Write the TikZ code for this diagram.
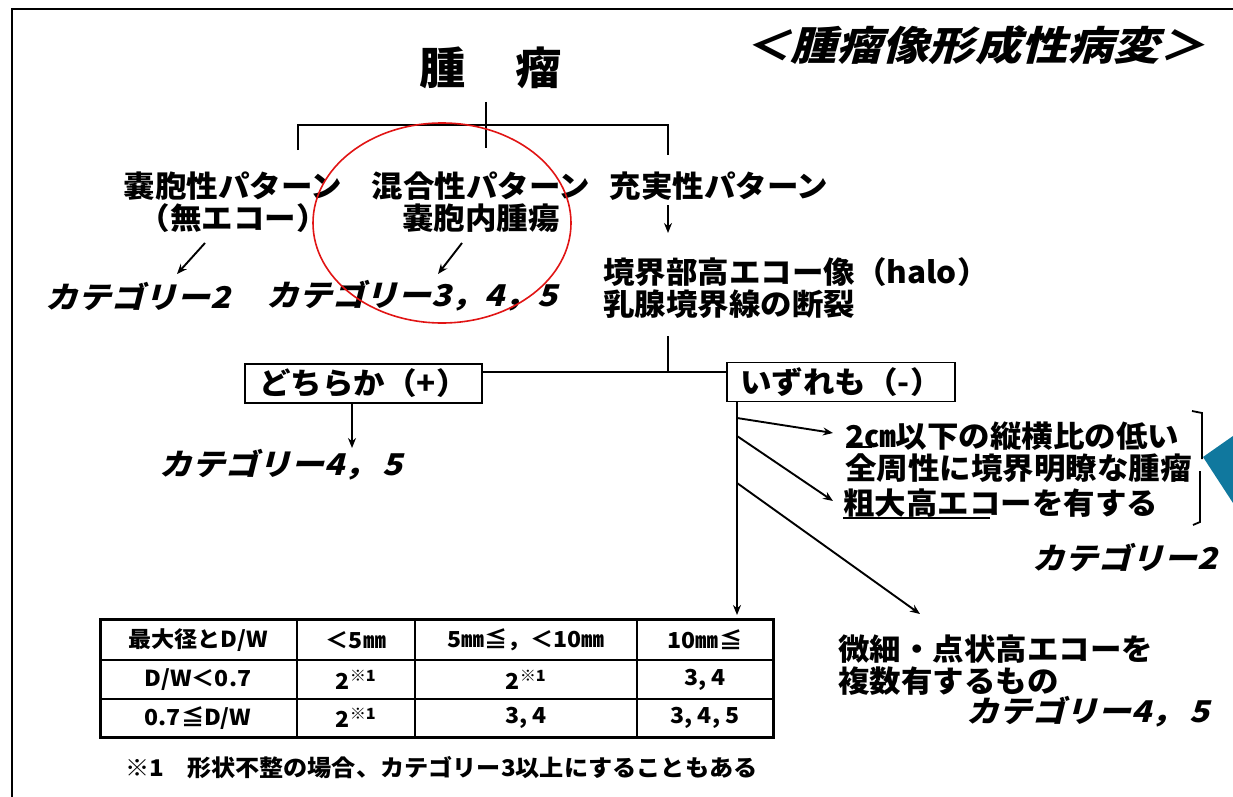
\documentclass[tikz,border=0pt]{standalone}
\usepackage{fontspec}
\usepackage{graphicx}
\usetikzlibrary{arrows.meta}
\newfontfamily\jp[FakeStretch=1.05]{Noto Sans CJK JP}
\newfontfamily\jpit[FakeSlant=0.25,FakeStretch=1.1]{Noto Sans CJK JP}
\definecolor{tealtri}{RGB}{16,120,158}
\definecolor{circred}{RGB}{225,20,20}
\begin{document}
\begin{tikzpicture}[x=1pt,y=-1pt,
  tree/.style={line width=2.6pt},
  arr/.style={line width=1.9pt,-{Stealth[length=10pt,width=8pt]}},
  txt/.style={font=\jp\bfseries\fontsize{30}{32}\selectfont,inner sep=0pt,align=center},
  cat/.style={font=\jpit\bfseries\fontsize{30}{32}\selectfont,inner sep=0pt},
  stepbox/.style={draw,line width=1.5pt,minimum height=39pt,font=\jp\bfseries\fontsize{30}{32}\selectfont,inner sep=0pt},
  tcell/.style={font=\jp\bfseries\fontsize{22}{24}\selectfont,inner sep=0pt},
  note/.style={font=\jp\bfseries\fontsize{23}{26}\selectfont,inner sep=0pt}]
\useasboundingbox (0,0) rectangle (1233,797);
\fill[white] (0,0) rectangle (1233,797);
% frame
\draw[line width=2.5pt] (12,797) -- (12,9) -- (1233,9);

% titles
\node[font=\jp\bfseries\fontsize{44}{48}\selectfont,inner sep=0pt] (title) at (491,68) {腫\hspace{50pt}瘤};
\node[font=\jpit\bfseries\fontsize{40}{46}\selectfont,inner sep=0pt] (sub) at (975,45) {\scalebox{1.05}[1]{＜腫瘤像形成性病変＞}};

% tree
\coordinate (t0) at (486,102);
\coordinate (tm) at (486,148);
\coordinate (b1) at (298,125);
\coordinate (b1d) at (298,150);
\coordinate (b3) at (668,125);
\coordinate (b3d) at (668,155);
\draw[tree] (t0) -- (tm);
\draw[tree] (b1d) -- (b1) -- (b3) -- (b3d);

\node[txt] (cyst) at (233,202) {嚢胞性パターン\\（無エコー）};
\node[txt] (mix) at (481,202) {混合性パターン\\嚢胞内腫瘍};
\node[txt] (solid) at (719,186) {充実性パターン};

\node[cat] (c2a) at (138,296) {カテゴリー2};
\node[cat] (c345) at (412,296) {カテゴリー3，4，5};

\coordinate (a1s) at (205,243);
\coordinate (a1e) at (177,274);
\coordinate (a2s) at (462,243);
\coordinate (a2e) at (438,274);
\draw[arr] (a1s) -- (a1e);
\draw[arr] (a2s) -- (a2e);

\coordinate (s1) at (668,205);
\coordinate (s2) at (668,233);
\draw[arr] (s1) -- (s2);

\node[txt,anchor=west,align=left] (halo) at (603,288) {境界部高エコー像（halo）\\乳腺境界線の断裂};

% red circle
\draw[circred,line width=1.6pt] (442,223) ellipse [x radius=129pt,y radius=100pt];

% boxes
\node[stepbox,minimum width=237pt] (plus) at (363.5,383.5) {どちらか（+）};
\node[stepbox,minimum width=228pt] (minus) at (841,382) {いずれも（-）};
\coordinate (h1) at (668,336);
\coordinate (h2) at (668,372);
\draw[tree] (h1) -- (h2);
\draw[tree] (plus.east |- h2) -- (minus.west |- h2);

\coordinate (p1) at (352,403);
\coordinate (p2) at (352,448);
\draw[arr] (p1) -- (p2);
\node[cat] (c45a) at (281,465) {カテゴリー4，\,5};

% minus branch
\coordinate (m0) at (737,402);
\coordinate (m1) at (737,615);
\draw[arr,line width=2.4pt] (m0) -- (m1);
\coordinate (r1s) at (737,418);
\coordinate (r1e) at (833,433);
\coordinate (r2s) at (737,436);
\coordinate (r2e) at (833,501);
\coordinate (r3s) at (737,483);
\coordinate (r3e) at (920,614);
\draw[arr] (r1s) -- (r1e);
\draw[arr] (r2s) -- (r2e);
\draw[arr] (r3s) -- (r3e);

\node[txt,anchor=west,align=left] (crit) at (845,452) {2㎝以下の縦横比の低い\\全周性に境界明瞭な腫瘤};
\node[txt,anchor=west] (coarse) at (843,503) {粗大高エコーを有する};
\draw[line width=1.5pt] (846,447) -- (872,447);
\draw[line width=1.5pt] (843,518) -- (990,518);

% bracket
\draw[line width=1.8pt] (1192,411) -- (1202,413) -- (1202,459);
\draw[line width=1.8pt] (1200,471) -- (1200,522) -- (1193,525);
% teal triangle
\fill[tealtri] (1203,457) -- (1233,436) -- (1233,503) -- cycle;

\node[cat] (c2b) at (1125,557) {カテゴリー2};

\node[txt,anchor=west,align=left] (micro) at (838,665) {微細・点状高エコーを\\複数有するもの};
\node[cat] (c45b) at (1088,712) {カテゴリー4，\,5};

% table
\coordinate (tl) at (100,619);
\coordinate (br) at (773,737);
\draw[line width=1.6pt] (100,660) -- (773,660);
\draw[line width=1.6pt] (100,699) -- (773,699);
\draw[line width=1.6pt] (297,619) -- (297,737);
\draw[line width=1.6pt] (415,619) -- (415,737);
\draw[line width=1.6pt] (637,619) -- (637,737);
\draw[line width=3pt] (tl) rectangle (br);

\node[tcell] (h0) at (198,640) {最大径とD/W};
\node[tcell] (h1c) at (356,640) {＜5㎜};
\node[tcell] (h2c) at (526,640) {5㎜≦，＜10㎜};
\node[tcell] (h3c) at (705,640) {10㎜≦};
\node[tcell] (r10) at (198,680) {D/W＜0.7};
\node[tcell] (r11) at (356,680) {2\textsuperscript{※1}};
\node[tcell] (r12) at (526,680) {2\textsuperscript{※1}};
\node[tcell] (r13) at (705,680) {3, 4};
\node[tcell] (r20) at (198,718) {0.7≦D/W};
\node[tcell] (r21) at (356,718) {2\textsuperscript{※1}};
\node[tcell] (r22) at (526,718) {3, 4};
\node[tcell] (r23) at (705,718) {3, 4, 5};

\node[note,anchor=west] (fn) at (125,768) {※1\hspace{1em}形状不整の場合、カテゴリー3以上にすることもある};
\end{tikzpicture}
\end{document}
